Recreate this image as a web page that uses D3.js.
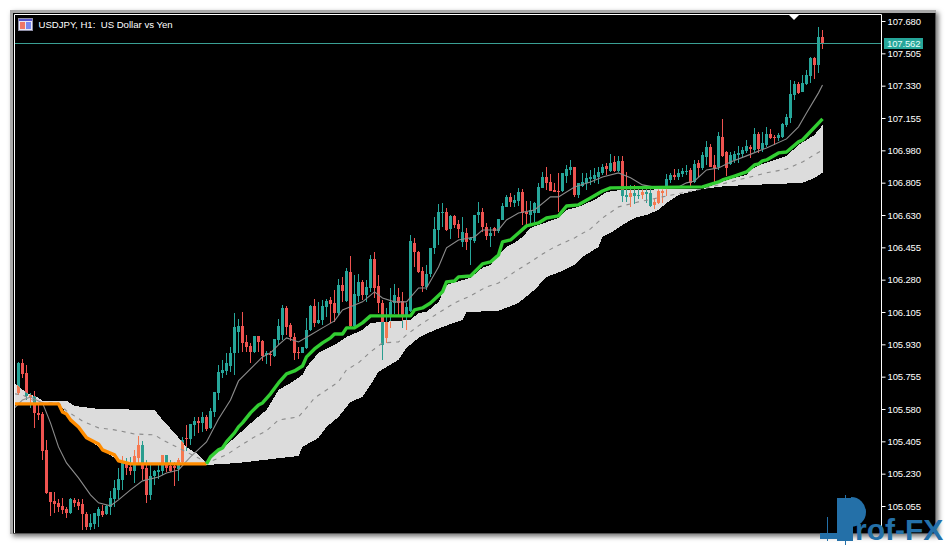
<!DOCTYPE html>
<html><head><meta charset="utf-8">
<script src="https://cdn.jsdelivr.net/npm/d3@7/dist/d3.min.js"></script>
<style>
html,body{margin:0;padding:0;background:#fff;overflow:hidden}
svg{display:block}
text{font-family:"Liberation Sans",Arial,sans-serif}
</style></head><body>
<svg id="c" width="947" height="545"></svg>
<script>
const title = "USDJPY, H1:  US Dollar vs Yen";
const lastPrice = 107.562;
const tickValues = [107.680,107.505,107.330,107.155,106.980,106.805,106.630,106.455,106.280,106.105,105.930,105.755,105.580,105.405,105.230,105.055];
const opens = [105.667,105.830,105.776,105.645,105.651,105.559,105.553,105.359,105.131,105.083,105.072,105.056,105.039,105.018,105.088,105.077,105.066,105.012,104.942,104.958,105.001,105.028,105.012,105.050,105.093,105.142,105.196,105.288,105.266,105.245,105.315,105.386,105.261,105.115,105.218,105.239,105.245,105.332,105.272,105.272,105.256,105.294,105.424,105.418,105.494,105.515,105.505,105.537,105.478,105.564,105.667,105.776,105.786,105.813,105.884,105.997,106.030,105.943,105.921,105.889,105.975,105.949,105.873,105.878,105.867,105.954,105.981,106.127,106.035,105.970,105.889,105.884,105.911,106.008,106.138,106.046,106.062,106.133,106.170,106.154,106.100,106.252,106.165,106.322,106.030,106.192,106.268,106.197,106.235,106.392,106.246,106.154,105.965,106.078,106.154,106.187,106.165,106.089,106.111,106.479,106.430,106.327,106.241,106.311,106.452,106.549,106.641,106.647,106.555,106.625,106.582,106.484,106.533,106.495,106.490,106.630,106.647,106.566,106.517,106.560,106.544,106.603,106.674,106.728,106.695,106.706,106.755,106.647,106.630,106.641,106.641,106.777,106.836,106.809,106.766,106.760,106.760,106.841,106.874,106.890,106.739,106.787,106.804,106.825,106.825,106.836,106.858,106.896,106.869,106.917,106.869,106.923,106.739,106.728,106.750,106.739,106.739,106.755,106.750,106.685,106.695,106.750,106.787,106.820,106.847,106.836,106.852,106.863,106.874,106.809,106.912,106.885,106.944,106.998,106.901,106.890,107.053,106.971,106.906,106.928,106.955,106.961,106.977,106.998,106.982,107.069,106.988,107.009,107.069,107.053,107.047,107.053,107.117,107.155,107.280,107.339,107.296,107.339,107.383,107.480,107.442,107.594];
const highs = [105.835,105.851,105.819,105.667,105.678,105.602,105.564,105.413,105.131,105.131,105.093,105.099,105.050,105.099,105.099,105.093,105.093,105.023,105.012,105.018,105.050,105.061,105.061,105.137,105.196,105.261,105.326,105.315,105.321,105.359,105.434,105.407,105.304,105.288,105.250,105.277,105.332,105.332,105.304,105.294,105.315,105.429,105.494,105.499,105.537,105.537,105.564,105.548,105.586,105.672,105.819,105.846,105.884,105.916,106.100,106.068,106.105,105.981,105.938,105.975,105.975,105.954,105.894,105.894,105.959,106.068,106.143,106.138,106.046,105.992,105.916,105.916,106.073,106.143,106.176,106.160,106.170,106.176,106.187,106.225,106.284,106.295,106.344,106.409,106.306,106.311,106.279,106.279,106.414,106.430,106.306,106.170,106.127,106.235,106.257,106.235,106.214,106.154,106.522,106.506,106.436,106.349,106.360,106.452,106.620,106.690,106.695,106.668,106.630,106.630,106.603,106.620,106.560,106.511,106.630,106.701,106.668,106.587,106.566,106.566,106.609,106.695,106.739,106.750,106.739,106.777,106.771,106.706,106.706,106.701,106.804,106.863,106.890,106.852,106.804,106.858,106.858,106.901,106.928,106.890,106.804,106.858,106.858,106.874,106.885,106.890,106.906,106.912,106.961,106.950,106.950,106.950,106.863,106.793,106.793,106.771,106.771,106.771,106.771,106.722,106.771,106.782,106.852,106.858,106.879,106.879,106.885,106.901,106.885,106.928,106.928,106.971,107.031,107.015,106.955,107.080,107.150,106.977,106.971,106.977,107.004,106.998,107.036,107.009,107.101,107.080,107.080,107.107,107.096,107.063,107.074,107.128,107.177,107.361,107.356,107.350,107.388,107.415,107.486,107.486,107.648,107.632];
const lows = [105.656,105.748,105.629,105.586,105.478,105.521,105.304,105.120,105.001,105.018,105.023,105.012,104.991,105.012,105.050,105.034,104.926,104.926,104.926,104.931,104.942,104.996,105.007,105.007,105.050,105.093,105.142,105.223,105.223,105.180,105.288,105.196,105.072,105.088,105.169,105.202,105.223,105.239,105.239,105.164,105.191,105.288,105.353,105.386,105.435,105.451,105.456,105.462,105.473,105.537,105.629,105.748,105.765,105.781,105.765,105.884,105.889,105.889,105.830,105.884,105.889,105.840,105.824,105.813,105.862,105.927,105.954,105.981,105.949,105.846,105.851,105.884,105.905,106.003,106.024,106.041,106.035,106.078,106.046,106.051,106.089,106.160,106.160,106.024,106.024,106.160,106.170,106.160,106.214,106.181,106.100,105.846,105.938,106.019,106.095,106.089,106.019,106.008,106.105,106.349,106.317,106.214,106.225,106.295,106.419,106.468,106.566,106.544,106.501,106.560,106.506,106.457,106.441,106.360,106.479,106.587,106.538,106.495,106.457,106.517,106.533,106.603,106.674,106.674,106.674,106.679,106.576,106.576,106.571,106.593,106.641,106.777,106.766,106.760,106.755,106.647,106.755,106.804,106.847,106.728,106.722,106.782,106.766,106.793,106.804,106.798,106.847,106.847,106.863,106.863,106.863,106.701,106.701,106.674,106.690,106.717,106.717,106.695,106.674,106.663,106.690,106.695,106.733,106.804,106.820,106.820,106.836,106.847,106.787,106.804,106.836,106.874,106.901,106.890,106.804,106.874,106.944,106.841,106.901,106.912,106.912,106.939,106.966,106.939,106.971,106.966,106.971,106.998,107.042,107.009,107.031,107.047,107.107,107.128,107.253,107.285,107.296,107.334,107.345,107.366,107.399,107.529];
const closes = [105.830,105.770,105.651,105.656,105.559,105.548,105.353,105.126,105.077,105.066,105.050,105.034,105.018,105.093,105.072,105.056,105.012,104.942,104.964,105.018,105.039,105.007,105.056,105.099,105.153,105.202,105.288,105.261,105.245,105.326,105.386,105.256,105.115,105.218,105.245,105.250,105.332,105.261,105.245,105.261,105.304,105.413,105.418,105.499,105.515,105.505,105.537,105.473,105.570,105.672,105.781,105.792,105.830,105.884,106.024,106.030,105.938,105.916,105.889,105.975,105.943,105.867,105.884,105.873,105.959,106.030,106.127,106.024,105.970,105.884,105.884,105.916,106.008,106.138,106.046,106.062,106.138,106.165,106.149,106.100,106.252,106.219,106.327,106.030,106.203,106.268,106.197,106.241,106.392,106.235,106.154,105.927,106.051,106.160,106.197,106.154,106.089,106.133,106.490,106.430,106.322,106.246,106.311,106.452,106.555,106.647,106.647,106.549,106.625,106.576,106.555,106.538,106.484,106.506,106.630,106.647,106.566,106.517,106.533,106.544,106.609,106.679,106.728,106.701,106.712,106.755,106.641,106.636,106.657,106.695,106.782,106.836,106.804,106.760,106.755,106.755,106.858,106.879,106.890,106.739,106.804,106.809,106.831,106.836,106.847,106.863,106.890,106.879,106.912,106.869,106.923,106.733,106.728,106.750,106.733,106.733,106.755,106.744,106.679,106.701,106.760,106.760,106.825,106.847,106.836,106.858,106.869,106.869,106.804,106.906,106.885,106.955,106.998,106.890,106.885,107.058,106.950,106.885,106.955,106.961,106.966,106.982,107.004,106.988,107.069,106.988,107.020,107.069,107.047,107.047,107.063,107.123,107.161,107.285,107.339,107.291,107.345,107.388,107.480,107.442,107.594,107.562];

const kijunDownBars = [-1,10,11,12,13,15,17,20,21,24,25,27,28,47];
const kijunDownValues = [105.608,105.608,105.564,105.553,105.521,105.483,105.424,105.391,105.359,105.332,105.299,105.288,105.283,105.283];
const kijunUpBars = [47,48,50,51,52,54,55,56,58,60,61,63,65,67,69,71,72,74,76,78,79,81,82,84,86,88,98,99,101,103,106,107,109,110,113,116,118,120,121,123,125,127,130,132,135,137,140,143,146,148,171,175,176,179,182,184,185,186,187,190,192,195,196,201];
const kijunUpValues = [105.283,105.321,105.359,105.369,105.402,105.451,105.483,105.505,105.559,105.602,105.613,105.662,105.721,105.770,105.786,105.813,105.862,105.905,105.938,105.965,105.986,105.986,106.019,106.019,106.046,106.084,106.084,106.116,106.127,106.154,106.214,106.268,106.273,106.295,106.300,106.365,106.376,106.414,106.484,106.495,106.533,106.571,106.587,106.614,106.625,106.679,106.685,106.722,106.760,106.777,106.782,106.809,106.820,106.841,106.863,106.901,106.906,106.923,106.928,106.966,106.971,107.026,107.036,107.150];
const tenkanBars = [-1,1,3,6,8,10,12,15,18,20,23,25,28,31,35,37,40,43,47,50,53,55,59,61,63,65,67,70,73,76,79,81,83,86,89,91,94,97,100,102,105,107,110,114,116,120,122,125,129,133,135,139,143,146,150,153,156,160,165,167,169,172,175,178,182,187,192,195,197,200,201];
const tenkanValues = [105.586,105.629,105.645,105.613,105.505,105.375,105.288,105.207,105.115,105.072,105.056,105.088,105.142,105.191,105.212,105.234,105.250,105.321,105.402,105.526,105.629,105.732,105.819,105.862,105.884,105.927,105.965,105.943,105.981,106.019,106.057,106.116,106.133,106.160,106.214,106.181,106.160,106.160,106.235,106.235,106.349,106.452,106.495,106.511,106.549,106.549,106.603,106.641,106.657,106.728,106.728,106.782,106.809,106.836,106.858,106.831,106.793,106.777,106.782,106.804,106.814,106.874,106.885,106.917,106.950,106.993,107.042,107.107,107.182,107.291,107.334];
const cloudUpperBars = [-1,2,5,6,12,14,20,34,36,39,42,45,47,49,54,59,62,65,68,71,72,75,79,82,86,88,98,100,102,105,107,113,116,118,120,122,124,126,128,130,135,137,140,144,147,151,171,175,179,182,183,186,192,195,199,201];
const cloudUpperValues = [105.721,105.667,105.640,105.624,105.624,105.597,105.580,105.575,105.521,105.451,105.375,105.332,105.288,105.332,105.424,105.521,105.575,105.683,105.721,105.765,105.808,105.884,105.927,105.970,106.008,106.046,106.062,106.100,106.105,106.160,106.252,106.290,106.344,106.360,106.414,106.457,106.479,106.511,106.560,106.576,106.614,106.657,106.674,106.712,106.755,106.766,106.771,106.804,106.831,106.847,106.874,106.906,106.950,107.009,107.063,107.117];
const cloudLowerBars = [-1,10,11,13,17,21,25,28,47,55,70,71,75,77,80,83,86,88,90,95,97,100,103,106,111,112,120,125,129,132,136,139,141,145,146,148,151,154,157,160,162,165,171,177,196,199,201];
const cloudLowerValues = [105.608,105.608,105.586,105.521,105.424,105.359,105.299,105.283,105.277,105.288,105.326,105.375,105.424,105.483,105.537,105.618,105.645,105.710,105.781,105.846,105.911,105.965,105.997,106.024,106.062,106.105,106.111,106.154,106.225,106.295,106.327,106.360,106.403,106.457,106.511,106.533,106.576,106.614,106.630,106.657,106.695,106.739,106.771,106.787,106.804,106.831,106.858];
const cloudMidBars = [-1,1,5,10,12,16,20,24,29,34,36,40,45,47,52,55,59,62,65,70,72,74,77,80,82,85,88,91,95,97,100,105,109,113,117,120,124,128,131,134,139,143,146,150,155,161,171,177,182,187,192,196,201];
const cloudMidValues = [105.662,105.656,105.613,105.613,105.570,105.515,105.478,105.467,105.445,105.440,105.413,105.369,105.315,105.288,105.332,105.375,105.429,105.462,105.521,105.537,105.586,105.640,105.683,105.727,105.792,105.830,105.889,105.938,105.943,105.981,106.030,106.100,106.154,106.192,106.241,106.262,106.322,106.376,106.419,106.457,106.506,106.555,106.614,106.674,106.701,106.728,106.771,106.804,106.831,106.858,106.879,106.917,106.982];

const colors = {up:"#26a69a",down:"#ef5350",upOnCloud:"#f6794f",downOnCloud:"#2a9d8f",cloud:"#dcdcdc",
  kijunUp:"#32cd32",kijunDown:"#ff8c00",thin:"#8c8c8c",axis:"#ffffff",priceLine:"#3a9f94",brand:"#2470a8",brandDark:"#1b5684"};

const svg = d3.select("#c");
const defs = svg.append("defs");
const shadow = defs.append("filter").attr("id","sh").attr("x","-5%").attr("y","-5%").attr("width","110%").attr("height","110%");
shadow.append("feDropShadow").attr("dx",2.5).attr("dy",2.5).attr("stdDeviation",2.5).attr("flood-color","#000").attr("flood-opacity",0.55);

// window frame
svg.append("rect").attr("x",10).attr("y",10).attr("width",926).attr("height",524).attr("fill","#a8a8a8").attr("filter","url(#sh)");
svg.append("rect").attr("x",13).attr("y",13).attr("width",922.5).attr("height",520.5).attr("fill","#000");

const L=15,R=881,T=15,B=533;
const x = d3.scaleLinear().domain([0,201]).range([18.5,822.5]);
const y = d3.scaleLinear().domain([105.055,107.68]).range([506,21]);
const idx = d3.range(opens.length);
const zip = (b,v)=>b.map((d,i)=>[d,v[i]]);
const line = d3.line().x(d=>x(d[0])).y(d=>y(d[1]));

defs.append("clipPath").attr("id","plot").append("rect").attr("x",L).attr("y",T).attr("width",R-L).attr("height",B-T);
const upperPts = zip(cloudUpperBars,cloudUpperValues), lowerPts = zip(cloudLowerBars,cloudLowerValues).reverse();
const cloudPath = line(upperPts.concat(lowerPts))+"Z";
defs.append("clipPath").attr("id","cloudClip").append("path").attr("d",cloudPath);

const plot = svg.append("g").attr("clip-path","url(#plot)");
function candles(g,upC,downC){
  const c = g.selectAll("g").data(idx).join("g");
  const col = i=>closes[i]>=opens[i]?upC:downC;
  c.append("rect").attr("x",i=>x(i)-0.5).attr("width",1)
    .attr("y",i=>Math.round(y(highs[i]))).attr("height",i=>Math.max(1,Math.round(y(lows[i]))-Math.round(y(highs[i]))))
    .attr("fill",col);
  c.append("rect").attr("x",i=>x(i)-1.5).attr("width",3)
    .attr("y",i=>Math.round(y(Math.max(opens[i],closes[i]))))
    .attr("height",i=>Math.max(1,Math.round(y(Math.min(opens[i],closes[i])))-Math.round(y(Math.max(opens[i],closes[i])))))
    .attr("fill",col);
}
candles(plot.append("g"),colors.up,colors.down);
plot.append("path").attr("d",cloudPath).attr("fill",colors.cloud).attr("shape-rendering","crispEdges");
candles(plot.append("g").attr("clip-path","url(#cloudClip)"),colors.upOnCloud,colors.downOnCloud);

plot.append("path").attr("d",line(zip(cloudMidBars,cloudMidValues))).attr("fill","none")
  .attr("stroke",colors.thin).attr("stroke-width",1.1).attr("stroke-dasharray","4 5");
plot.append("path").attr("d",line(zip(tenkanBars,tenkanValues))).attr("fill","none")
  .attr("stroke",colors.thin).attr("stroke-width",1.1);
plot.append("path").attr("d",line(zip(kijunDownBars,kijunDownValues))).attr("fill","none")
  .attr("stroke",colors.kijunDown).attr("stroke-width",3.4).attr("stroke-linejoin","round");
plot.append("path").attr("d",line(zip(kijunUpBars,kijunUpValues))).attr("fill","none")
  .attr("stroke",colors.kijunUp).attr("stroke-width",3.4).attr("stroke-linejoin","round");

// price line
const pY = Math.round(y(lastPrice))+0.5;
svg.append("line").attr("x1",L).attr("x2",R).attr("y1",pY).attr("y2",pY).attr("stroke",colors.priceLine).attr("stroke-width",1);

// frame lines
svg.append("path").attr("d",`M${L-0.5},${B}V${T-0.5}H${R+0.5}V${B}`).attr("fill","none").attr("stroke",colors.axis).attr("stroke-width",1);

// axis
const axis = d3.axisRight(y).tickValues(tickValues).tickSize(4).tickPadding(2).tickFormat(d3.format(".3f"));
const ag = svg.append("g").attr("transform",`translate(${R+0.5},0)`).call(axis);
ag.select(".domain").remove();
ag.selectAll(".tick line").attr("stroke","#fff");
ag.selectAll(".tick text").attr("fill","#fff").attr("font-size",9.5).attr("letter-spacing",-0.15)
  .style("font-family",'"Liberation Sans",Arial,sans-serif');

// last price tag
const tag = svg.append("g");
tag.append("rect").attr("x",884).attr("y",pY-5.5).attr("width",39).attr("height",11).attr("fill",colors.up);
tag.append("text").attr("x",887).attr("y",pY+3.5).attr("fill","#e8fff9").attr("font-size",9.5).attr("letter-spacing",-0.15).text(d3.format(".3f")(lastPrice));

// shift marker
svg.append("path").attr("d","M789,15H799L794,20Z").attr("fill","#fff");

// title & icon
const ic = svg.append("g");
ic.append("rect").attr("x",18.5).attr("y",18.5).attr("width",14).attr("height",12).attr("fill","#e8e8f4").attr("stroke","#9090a8");
ic.append("rect").attr("x",19).attr("y",19).attr("width",13).attr("height",2).attr("fill","#5555cc");
ic.append("rect").attr("x",20).attr("y",22).attr("width",5).attr("height",7).attr("fill","#ee7766");
ic.append("rect").attr("x",26).attr("y",22).attr("width",5).attr("height",7).attr("fill","#7788ee");
svg.append("text").attr("x",38.5).attr("y",28).attr("fill","#fff").attr("font-size",9.6).attr("xml:space","preserve").style("white-space","pre").text(title);

// watermark
const wm = svg.append("g");
wm.append("rect").attr("x",827).attr("y",517).attr("width",1).attr("height",24).attr("fill",colors.brand);
wm.append("rect").attr("x",820).attr("y",533).attr("width",17).attr("height",6).attr("fill",colors.brand);
wm.append("rect").attr("x",845).attr("y",495).attr("width",1).attr("height",50).attr("fill",colors.brand);
wm.append("path").attr("d",d3.arc().innerRadius(0).outerRadius(15).startAngle(0).endAngle(Math.PI)()).attr("transform","translate(851,512)").attr("fill",colors.brand);
wm.append("path").attr("d",d3.arc().innerRadius(0).outerRadius(11).startAngle(Math.PI).endAngle(Math.PI*1.5)()).attr("transform","translate(851,512)").attr("fill",colors.brandDark);
wm.append("rect").attr("x",837).attr("y",498).attr("width",16).attr("height",43).attr("fill",colors.brand);
wm.append("text").attr("x",855).attr("y",540).attr("fill",colors.brand).attr("font-size",30).attr("font-weight","bold").text("rof-FX");
</script>
</body></html>
